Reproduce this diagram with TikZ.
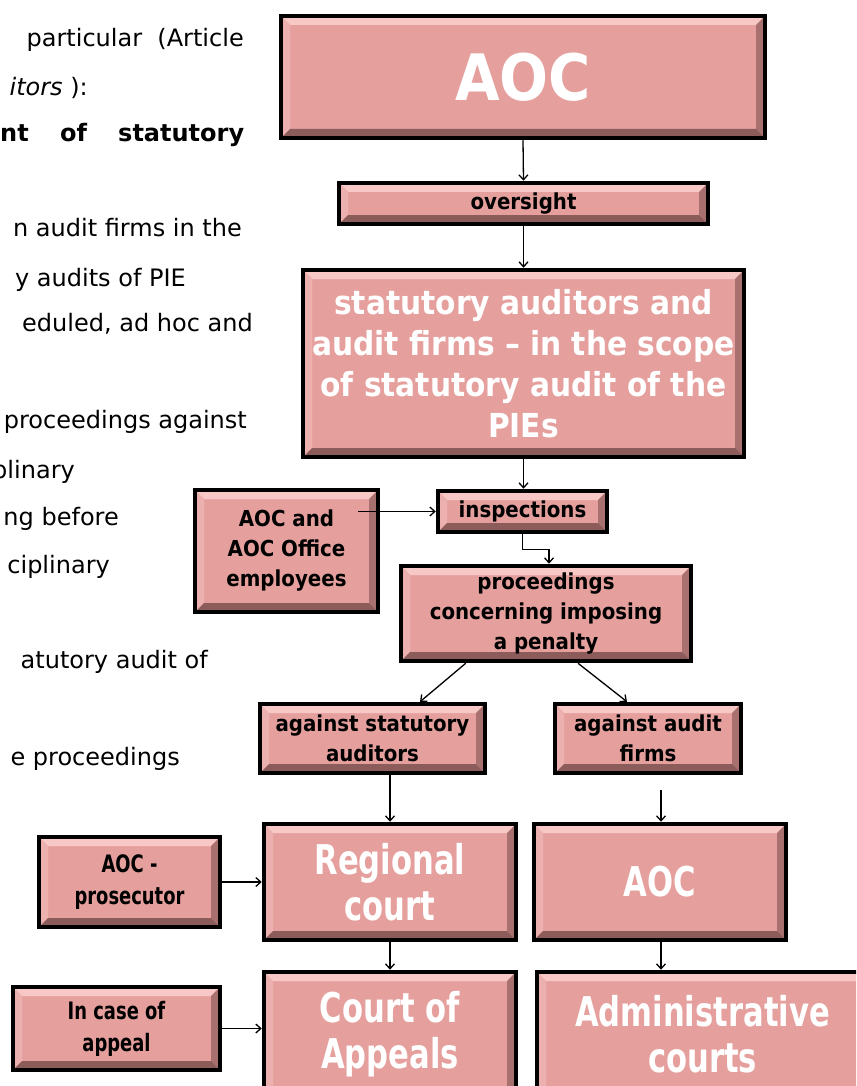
\documentclass[tikz,border=0pt]{standalone}
\usepackage{fontspec}
\setmainfont{DejaVu Sans Condensed}
\newfontfamily\bodyfont{DejaVu Sans}
\usetikzlibrary{arrows.meta,calc}
\definecolor{boxfill}{RGB}{229,160,158}
\definecolor{bevtop}{RGB}{248,200,198}
\definecolor{bevleft}{RGB}{236,176,174}
\definecolor{bevright}{RGB}{168,112,110}
\definecolor{bevbot}{RGB}{140,92,90}
\newcommand{\nar}[1]{\scalebox{0.83}[1]{#1}}
\newcommand{\bvw}{9pt}
\tikzset{
  box/.style={draw=black, line width=4.5pt, fill=boxfill, inner sep=0pt, align=center,
    text=black, font=\bfseries\fontsize{22}{30}\selectfont,
    path picture={
      \coordinate (pnw) at (path picture bounding box.north west);
      \coordinate (pne) at (path picture bounding box.north east);
      \coordinate (psw) at (path picture bounding box.south west);
      \coordinate (pse) at (path picture bounding box.south east);
      \fill[bevtop] (pnw) -- (pne) -- ([shift={(-\bvw,-\bvw)}]pne) -- ([shift={(\bvw,-\bvw)}]pnw) -- cycle;
      \fill[bevleft] (pnw) -- (psw) -- ([shift={(\bvw,\bvw)}]psw) -- ([shift={(\bvw,-\bvw)}]pnw) -- cycle;
      \fill[bevright] (pne) -- (pse) -- ([shift={(-\bvw,\bvw)}]pse) -- ([shift={(-\bvw,-\bvw)}]pne) -- cycle;
      \fill[bevbot] (psw) -- (pse) -- ([shift={(-\bvw,\bvw)}]pse) -- ([shift={(\bvw,\bvw)}]psw) -- cycle;
    }},
  whitetext/.style={text=white},
  body/.style={inner sep=0pt, font=\bodyfont\fontsize{24}{30}\selectfont, text=black},
  arr/.style={draw=black, line width=1.3pt, -{Straight Barb[length=5pt,width=9pt,line width=1.3pt]}},
}
\begin{document}
\begin{tikzpicture}[x=1pt,y=-1pt]
\useasboundingbox (0,0) rectangle (856,1086);
\clip (0,0) rectangle (856,1086);

% left body text (clipped paragraph)
\node[body, anchor=mid east] (t1) at (244,44) {particular\ \ (Article};
\node[body, anchor=mid east] (t2) at (88,93) {\textit{itors} ):};
\node[body, anchor=mid west] (t3) at (0,139) {\makebox[244pt][s]{\bfseries nt of statutory}};
\node[body, anchor=mid east] (t4) at (242,234) {n audit firms in the};
\node[body, anchor=mid east] (t5) at (186,284) {y audits of PIE};
\node[body, anchor=mid east] (t6) at (253,329) {eduled, ad hoc and};
\node[body, anchor=mid east] (t7) at (247,426) {proceedings against};
\node[body, anchor=mid east] (t8) at (75,476) {plinary};
\node[body, anchor=mid east] (t9) at (119,523) {ng before};
\node[body, anchor=mid east] (t10) at (110,571) {ciplinary};
\node[body, anchor=mid east] (t11) at (208,666) {atutory audit of};
\node[body, anchor=mid east] (t12) at (180,763) {e proceedings};

% boxes
\node[box, whitetext, minimum width=484, minimum height=122, font=\bfseries\fontsize{64}{70}\selectfont] (aoc) at (523,77) {AOC};
\node[box, minimum width=369, minimum height=41] (over) at (523.5,203.5) {oversight};
\node[box, whitetext, minimum width=441, minimum height=187, font=\bfseries\fontsize{33}{41}\selectfont] (stat) at (523.5,363.5) {statutory auditors and\\audit firms -- in the scope\\of statutory audit of the\\PIEs};
\node[box, minimum width=183, minimum height=122] (emp) at (286.5,551) {AOC and\\AOC Office\\employees};
\node[box, minimum width=169, minimum height=41] (insp) at (522.5,511.5) {inspections};
\node[box, minimum width=290, minimum height=95] (proc) at (546,613.5) {proceedings\\concerning imposing\\a penalty};
\node[box, minimum width=225, minimum height=69] (asa) at (372.5,738.5) {against statutory\\auditors};
\node[box, minimum width=186, minimum height=69] (aaf) at (648,738.5) {against audit\\firms};
\node[box, minimum width=181, minimum height=90, font=\bfseries\fontsize{24}{32}\selectfont] (pros) at (129.5,882) {\nar{AOC -}\\\nar{prosecutor}};
\node[box, whitetext, minimum width=252, minimum height=116, font=\bfseries\fontsize{41}{46}\selectfont] (reg) at (390,882) {\nar{Regional}\\\nar{court}};
\node[box, whitetext, minimum width=252, minimum height=116, font=\bfseries\fontsize{41}{46}\selectfont] (aoc2) at (660,882) {\nar{AOC}};
\node[box, minimum width=207, minimum height=83, font=\bfseries\fontsize{24}{32}\selectfont] (app) at (116.5,1028.5) {\nar{In case of}\\\nar{appeal}};
\node[box, whitetext, minimum width=252, minimum height=125, font=\bfseries\fontsize{41}{46}\selectfont] (coa) at (390,1034.5) {\nar{Court of}\\\nar{Appeals}};
\node[box, whitetext, minimum width=331, minimum height=125, font=\bfseries\fontsize{41}{46}\selectfont] (adm) at (702.5,1034.5) {\nar{Administrative}\\\nar{courts}};

% connectors
\draw[arr] (aoc.south) -- (over.north);
\draw[arr] (over.south) -- (stat.north);
\draw[arr] (stat.south) -- (stat.south |- insp.north);
\draw[arr] ([xshift=-22pt]emp.east |- insp.west) -- (insp.west);
\draw[arr] (insp.south) -- ++(0,15) -| ([xshift=3pt]proc.north);
\draw[arr] ([xshift=67pt]proc.south west) -- ([xshift=47.5pt]asa.north);
\draw[arr] ([xshift=32pt]proc.south) -- ([xshift=-21pt]aaf.north);
\draw[arr] (reg.north |- asa.south) -- (reg.north);
\draw[arr] ([xshift=1pt,yshift=32pt]aoc2.north) -- ([xshift=1pt]aoc2.north);
\draw[arr] (pros.east) -- (reg.west |- pros.east);
\draw[arr] (reg.south) -- (coa.north);
\draw[arr] ([xshift=1pt]aoc2.south) -- ([xshift=1pt]aoc2.south |- adm.north);
\draw[arr] (app.east) -- (coa.west |- app.east);
\end{tikzpicture}
\end{document}
